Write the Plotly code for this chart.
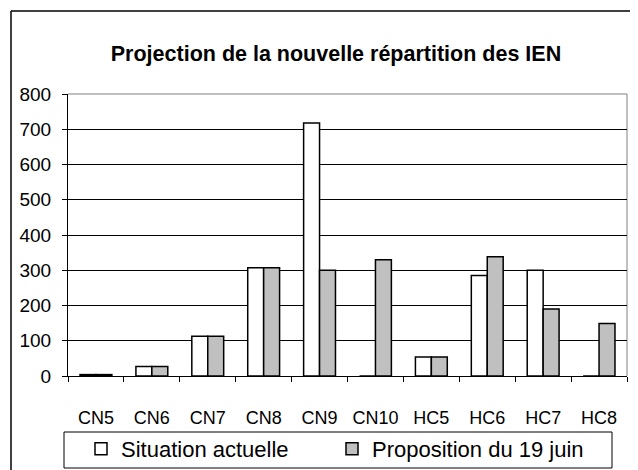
import plotly.graph_objects as go

categories = ["CN5", "CN6", "CN7", "CN8", "CN9", "CN10", "HC5", "HC6", "HC7", "HC8"]
situation_actuelle = [4, 27, 113, 307, 718, 0, 54, 285, 300, 0]
proposition_19_juin = [4, 27, 113, 307, 300, 330, 54, 338, 190, 149]
y_ticks = [0, 100, 200, 300, 400, 500, 600, 700, 800]

fig = go.Figure()
fig.add_trace(go.Bar(
    x=categories, y=situation_actuelle, name="Situation actuelle",
    marker=dict(color="white", line=dict(color="black", width=1.5)),
    legend="legend",
))
fig.add_trace(go.Bar(
    x=categories, y=proposition_19_juin, name="Proposition du 19 juin",
    marker=dict(color="#c0c0c0", line=dict(color="black", width=1.5)),
    legend="legend2",
))

# page is offset by 8px (body margin); work in page pixels and convert
OFF = 8
W, H = 630, 462
L, R, T, B = 68 - OFF, W - (627 - OFF), 94 - OFF, H - (376 - OFF)
pw, ph = W - L - R, H - T - B

def px_x(x):
    return (x - OFF - L) / pw

def px_y(y):
    return (H - B - (y - OFF)) / ph

FONT = "Liberation Sans, Arial, sans-serif"
legend_style = dict(orientation="h", xanchor="left", yanchor="top",
                    bgcolor="rgba(0,0,0,0)", borderwidth=0,
                    font=dict(family=FONT, size=22), itemwidth=30)
fig.update_layout(
    width=W, height=H,
    margin=dict(l=L, r=R, t=T, b=B, autoexpand=False),
    paper_bgcolor="white", plot_bgcolor="white",
    font=dict(family=FONT, color="black", size=15),
    barmode="group", bargap=0.43, bargroupgap=0,
    title=dict(text="<b>Projection de la nouvelle répartition des IEN</b>",
               x=(336 - OFF) / W, xanchor="center", y=1 - (53 - OFF) / H, yanchor="middle",
               xref="container", yref="container",
               font=dict(family=FONT, size=21.5, color="black")),
    legend=dict(x=px_x(81), y=px_y(428), **legend_style),
    legend2=dict(x=px_x(332), y=px_y(428), **legend_style),
    showlegend=True,
)
fig.update_xaxes(
    showline=True, linecolor="black", linewidth=1,
    ticks="outside", tickson="boundaries", ticklen=5, tickcolor="black",
    tickfont=dict(family=FONT, size=18), showgrid=False,
    ticklabelstandoff=25,
)
fig.update_yaxes(
    range=[0, 800], tickvals=y_ticks, showline=True, linecolor="black", linewidth=1,
    ticks="outside", ticklen=5, tickcolor="black",
    showgrid=True, gridcolor="black", gridwidth=1, zeroline=False,
    tickfont=dict(family=FONT, size=19), ticklabelstandoff=7,
)
# plot area frame (top/right, grey)
fig.add_shape(type="line", xref="paper", yref="paper", x0=0, x1=1, y0=1, y1=1,
              line=dict(color="#808080", width=1), layer="below")
fig.add_shape(type="line", xref="paper", yref="paper", x0=1, x1=1, y0=0, y1=1,
              line=dict(color="#808080", width=1), layer="below")
# legend box
fig.add_shape(type="rect", xref="paper", yref="paper",
              x0=px_x(64), x1=px_x(612), y0=px_y(468), y1=px_y(432),
              line=dict(color="black", width=1), fillcolor="rgba(0,0,0,0)")
# outer chart border (top and left visible)
fig.add_shape(type="line", xref="paper", yref="paper",
              x0=px_x(11), x1=px_x(640), y0=px_y(11), y1=px_y(11),
              line=dict(color="black", width=1.5))
fig.add_shape(type="line", xref="paper", yref="paper",
              x0=px_x(11), x1=px_x(11), y0=px_y(11), y1=px_y(475),
              line=dict(color="black", width=1.5))

fig.write_html("out.html")
